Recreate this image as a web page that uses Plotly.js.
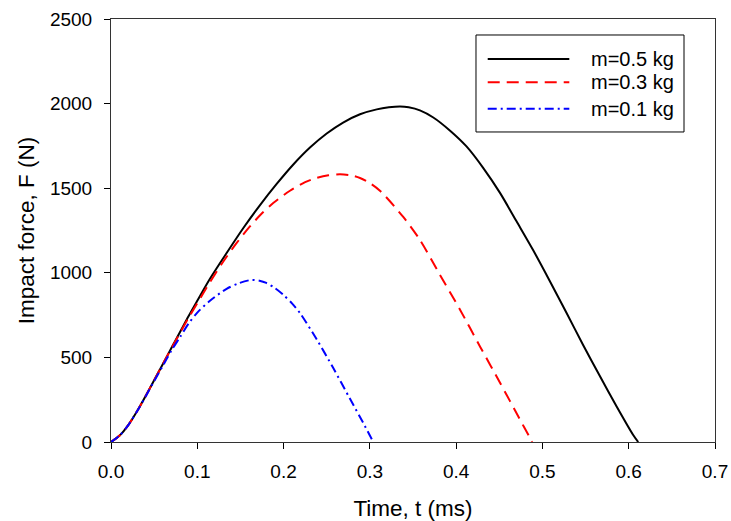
<!DOCTYPE html>
<html>
<head>
<meta charset="utf-8">
<script src="https://cdn.plot.ly/plotly-3.0.1.min.js"></script>
<style>html,body{margin:0;padding:0;background:#fff;}#chart{width:731px;height:521px;}</style>
</head>
<body>
<div id="chart"></div>
<script>
// m = 0.5 kg
const t05 = [0, 0.01, 0.02, 0.03, 0.04, 0.05, 0.06, 0.07, 0.08, 0.09, 0.1, 0.1147, 0.134, 0.1534, 0.1727, 0.192, 0.2113, 0.2306, 0.25, 0.269, 0.2886, 0.308, 0.322, 0.335, 0.345, 0.358, 0.3735, 0.393, 0.412, 0.4315, 0.451, 0.470, 0.489, 0.5088, 0.528, 0.547, 0.5667, 0.586, 0.605, 0.611];
const F05 = [0, 38, 100, 180, 270, 365, 460, 555, 650, 745, 835, 965, 1117, 1265, 1400, 1525, 1640, 1740, 1823, 1888, 1937, 1966, 1978, 1983, 1978, 1960, 1918, 1840, 1747, 1619, 1471, 1304, 1136, 949, 762, 575, 388, 210, 43, 0];
// m = 0.3 kg
const t03 = [0, 0.01, 0.02, 0.03, 0.04, 0.05, 0.06, 0.07, 0.08, 0.09, 0.1, 0.1147, 0.130, 0.145, 0.161, 0.175, 0.188, 0.2074, 0.225, 0.238, 0.252, 0.2654, 0.278, 0.2886, 0.300, 0.3117, 0.3387, 0.358, 0.381, 0.4045, 0.4276, 0.451, 0.474, 0.4856, 0.4880];
const F03 = [0, 38, 100, 180, 270, 365, 460, 553, 645, 735, 820, 945, 1065, 1172, 1274, 1352, 1412, 1485, 1536, 1560, 1576, 1582, 1576, 1560, 1530, 1485, 1330, 1195, 990, 782, 565, 349, 132, 24, 0];
// m = 0.1 kg
const t01 = [0, 0.01, 0.02, 0.03, 0.04, 0.05, 0.06, 0.07, 0.08, 0.09, 0.1, 0.1147, 0.134, 0.148, 0.163, 0.172, 0.180, 0.19, 0.1997, 0.21, 0.219, 0.238, 0.2576, 0.277, 0.2924, 0.304];
const F01 = [0, 38, 100, 180, 268, 360, 450, 540, 620, 700, 765, 835, 905, 938, 958, 953, 940, 910, 870, 818, 762, 610, 437, 255, 112, 0];

const seriesNames = ["m=0.5 kg", "m=0.3 kg", "m=0.1 kg"];
const seriesColors = ["#000000", "#ff0000", "#0000ff"];
const seriesDash = ["solid", "12px,7px", "9px,4px,2px,4px"];
const xTicks = [0, 0.1, 0.2, 0.3, 0.4, 0.5, 0.6, 0.7];
const xTickText = ["0.0", "0.1", "0.2", "0.3", "0.4", "0.5", "0.6", "0.7"];
const yTicks = [0, 500, 1000, 1500, 2000, 2500];

const xs = [t05, t03, t01];
const ys = [F05, F03, F01];
const traces = xs.map((x, i) => ({
  x: x, y: ys[i], name: seriesNames[i], mode: "lines", showlegend: false,
  line: {color: seriesColors[i], width: 2, dash: seriesDash[i], shape: "spline", smoothing: 0.8}
}));

const FONT = "Arial, 'Liberation Sans', sans-serif";
const tickFont = {family: FONT, size: 19, color: "#000"};
const titleFont = {family: FONT, size: 22.5, color: "#000"};

// custom legend (paper coordinates)
const legBox = {x0: 0.6043, x1: 0.9487, y0: 0.7329, y1: 0.9622};
const legLineX = [0.6237, 0.7588];
const legTextX = 0.7919;
const legRowY = [0.9054, 0.8504, 0.7879];

const shapes = [{type: "rect", xref: "paper", yref: "paper", x0: legBox.x0, x1: legBox.x1, y0: legBox.y0, y1: legBox.y1,
  line: {color: "#000", width: 1}, fillcolor: "#fff", layer: "above"}];
const annotations = [];
seriesNames.forEach((n, i) => {
  shapes.push({type: "line", xref: "paper", yref: "paper", x0: legLineX[0], x1: legLineX[1], y0: legRowY[i], y1: legRowY[i],
    line: {color: seriesColors[i], width: 2, dash: seriesDash[i]}, layer: "above"});
  annotations.push({xref: "paper", yref: "paper", x: legTextX, y: legRowY[i], xanchor: "left", yanchor: "middle",
    text: n, showarrow: false, font: {family: FONT, size: 20, color: "#000"}});
});

const layout = {
  width: 731, height: 521,
  margin: {l: 111, r: 16, t: 19, b: 79},
  paper_bgcolor: "#fff", plot_bgcolor: "#fff",
  font: {family: FONT, color: "#000"},
  showlegend: false,
  shapes: shapes, annotations: annotations,
  xaxis: {
    range: [0, 0.7], tickvals: xTicks, ticktext: xTickText,
    ticks: "outside", ticklen: 6, tickcolor: "#000", tickwidth: 1, ticklabelstandoff: 6,
    showline: true, linecolor: "#333", linewidth: 1, mirror: true,
    showgrid: false, zeroline: false, tickfont: tickFont,
    title: {text: "Time, t (ms)", font: titleFont, standoff: 20}
  },
  yaxis: {
    range: [0, 2500], tickvals: yTicks,
    ticks: "outside", ticklen: 6, tickcolor: "#000", tickwidth: 1, ticklabelstandoff: 8,
    showline: true, linecolor: "#333", linewidth: 1, mirror: true,
    showgrid: false, zeroline: false, tickfont: tickFont,
    title: {text: "Impact force, F (N)", font: titleFont, standoff: 9}
  }
};

Plotly.newPlot("chart", traces, layout, {displayModeBar: false, staticPlot: true});
</script>
</body>
</html>
